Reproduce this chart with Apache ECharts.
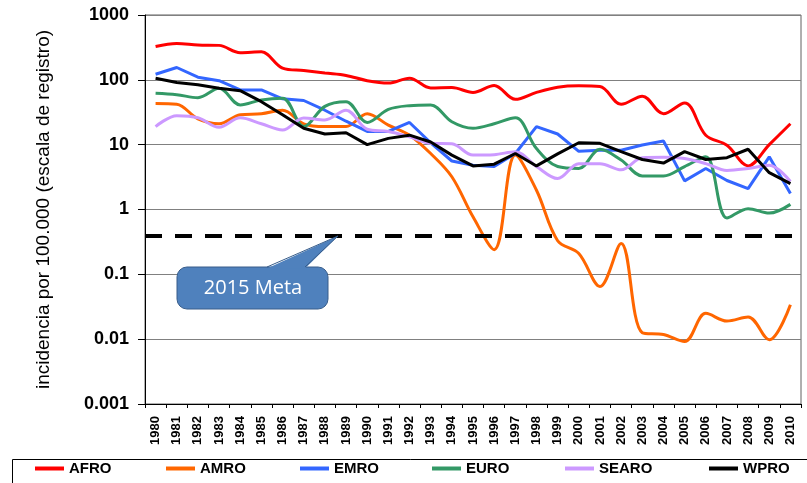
<!DOCTYPE html>
<html>
<head>
<meta charset="utf-8">
<script src="https://cdn.jsdelivr.net/npm/echarts@6/dist/echarts.min.js"></script>
<style>
html,body{margin:0;padding:0;background:#fff;}
#c{width:807px;height:483px;}
</style>
</head>
<body>
<div id="c"></div>
<script>
var years = ['1980','1981','1982','1983','1984','1985','1986','1987','1988','1989','1990','1991','1992','1993','1994','1995','1996','1997','1998','1999','2000','2001','2002','2003','2004','2005','2006','2007','2008','2009','2010'];
var yTickLabels = ['0.001','0.01','0.1','1','10','100','1000'];
var seriesNames = ['AFRO','AMRO','EMRO','EURO','SEARO','WPRO'];
var afro  = [327,365,345,340,262,270,152,139,127,117,97,89,106,75,76,64,82,50,64,77,81,79,42,56,30,44,14,9.8,4.7,10,21];
var amro  = [43,42,25,21,29,30,34,21,19,19,30,20,14,7.3,3.2,0.77,0.24,6.9,1.98,0.33,0.21,0.065,0.30,0.0126,0.0118,0.0092,0.025,0.019,0.022,0.0098,0.034];
var emro  = [122,155,110,97,70,70,51,48,34,23,16,16,22,10.7,5.6,4.8,4.6,7.3,19,14.6,7.9,8.2,8.2,9.9,11.4,2.76,4.3,2.8,2.1,6.5,1.76];
var euro  = [62,59,53,74,41,49,52,19,39,46,22,35,40,41,22.6,17.9,21,26,8.7,4.6,4.3,8.5,5.8,3.3,3.3,4.6,6.5,0.74,1.03,0.88,1.2];
var searo = [19,28,26,18.6,26,21,16.8,25.7,24,34,17.3,16,13.2,10.5,10.3,6.9,7,7.8,4.6,3.0,5.1,5.1,4.1,6.3,6.4,6.1,5.1,4.0,4.3,4.8,2.7];
var wpro  = [106,91,84,74,68,46,29,17.9,14.6,15.3,10,12.5,14,11,6.9,4.7,5,7.3,4.7,7.2,10.7,10.5,7.8,5.9,5.2,7.8,5.9,6.3,8.5,3.7,2.5];
var targetValue = 0.4;
var calloutText = '2015 Meta';

var colors = ['#ff0000','#ff6600','#3366ff','#339966','#cc99ff','#000000'];
var dataSets = [afro, amro, emro, euro, searo, wpro];
var smoothFlags = [0.35, 0.35, false, 0.35, 0.35, false];
var legendLefts = [35, 166, 300, 432, 565, 709];

var chart = echarts.init(document.getElementById('c'), null, {renderer:'canvas'});
var series = seriesNames.map(function(n, i){
  var s = {
    name: n, type: 'line', data: dataSets[i], symbol: 'none', smooth: smoothFlags[i],
    lineStyle: {color: colors[i], width: 3}, itemStyle: {color: colors[i]},
    z: 3
  };
  if (n === 'WPRO') {
    s.markLine = {
      silent: true, symbol: 'none', label: {show: false},
      lineStyle: {color: '#000', width: 4, type: [17, 13]},
      data: [{yAxis: targetValue}]
    };
  }
  return s;
});

var legends = seriesNames.map(function(n, i){
  return {
    data: [n], left: legendLefts[i], top: 461, padding: 0,
    itemWidth: 29, itemHeight: 4, icon: 'rect',
    textStyle: {fontFamily: 'Liberation Sans, Arial', fontWeight: 'bold', fontSize: 15, color: '#000'}
  };
});

chart.setOption({
  animation: false,
  color: colors,
  grid: {left: 145, right: 6, top: 15, bottom: 79, show: true, borderColor: '#606060', borderWidth: 1},
  xAxis: {
    type: 'category', data: years, boundaryGap: true,
    axisLine: {lineStyle: {color: '#000', width: 1}},
    axisTick: {show: true, interval: 0, length: 4, lineStyle: {color: '#000'}},
    axisLabel: {interval: 0, rotate: 90, fontFamily: 'Liberation Sans, Arial', fontWeight: 'bold', fontSize: 13, color: '#000', margin: 12},
    splitLine: {show: false}
  },
  yAxis: {
    type: 'log', logBase: 10, min: 0.001, max: 1000,
    name: 'incidencia por 100.000 (escala de registro)',
    nameLocation: 'middle', nameGap: 92,
    nameTextStyle: {fontFamily: 'Liberation Sans, Arial', fontSize: 19, color: '#000'},
    axisLine: {show: true, lineStyle: {color: '#000', width: 1}},
    axisTick: {show: true, length: 7, lineStyle: {color: '#000'}},
    axisLabel: {
      fontFamily: 'Liberation Sans, Arial', fontWeight: 'bold', fontSize: 18, color: '#000', margin: 16,
      formatter: function(v){ var k = Math.round(Math.log10(v)) + 3; return yTickLabels[k] || ''; }
    },
    splitLine: {show: true, lineStyle: {color: '#808080', width: 1}},
    minorTick: {show: false}
  },
  legend: legends,
  graphic: [
    {type: 'rect', left: 10, top: 457, shape: {x: 0, y: 0, width: 805, height: 40}, style: {fill: 'none', stroke: '#000', lineWidth: 1}, silent: true, z: 1},
    {type: 'rect', shape: {x: 177, y: 267, width: 151, height: 42, r: 10}, style: {fill: '#4f81bd', stroke: '#385d8a', lineWidth: 1}, z: 10},
    {type: 'polygon', shape: {points: [[267, 268.5], [338, 236], [305, 268.5]]}, style: {fill: '#4f81bd'}, z: 11},
    {type: 'polyline', shape: {points: [[267, 267], [338, 236], [305, 267]]}, style: {fill: 'none', stroke: '#385d8a', lineWidth: 1}, z: 12},
    {type: 'text', x: 253, y: 288, style: {text: calloutText, fill: '#fff', font: '20px "Open Sans"', textAlign: 'center', textVerticalAlign: 'middle'}, z: 13}
  ],
  series: series
});
</script>
</body>
</html>
